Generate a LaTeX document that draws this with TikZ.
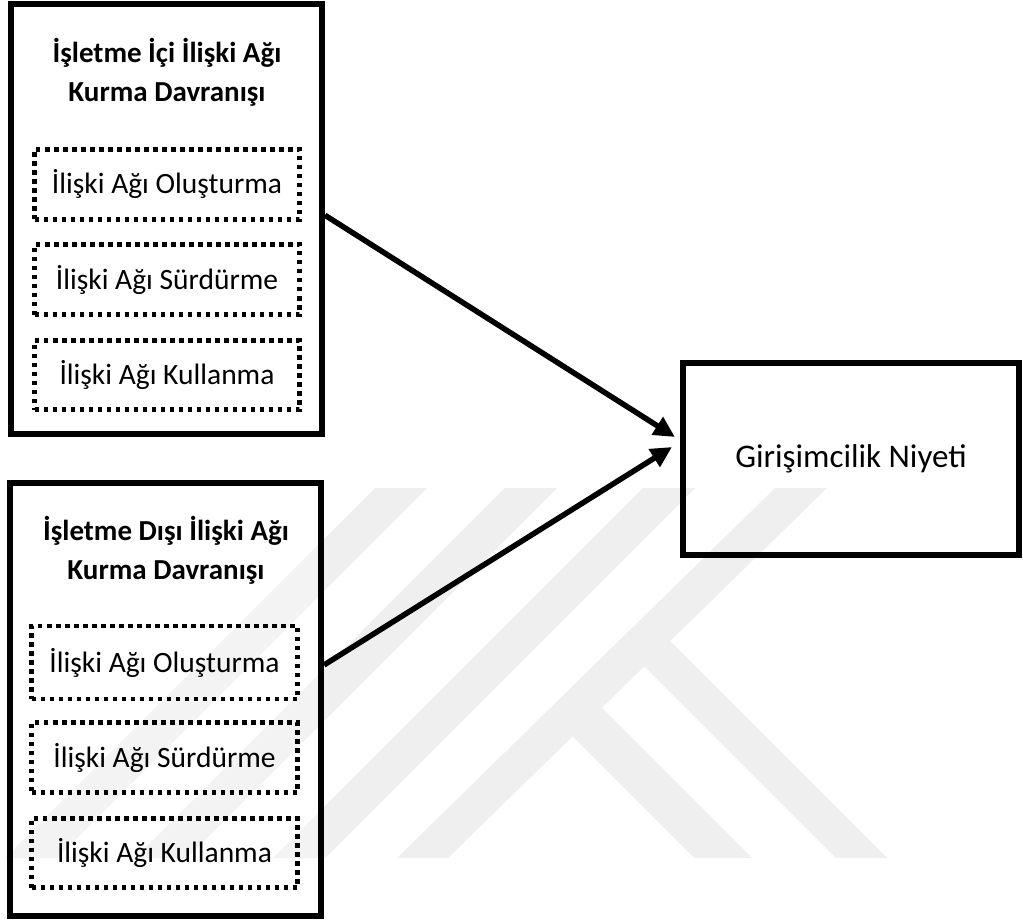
\documentclass[tikz,border=0pt]{standalone}
\usepackage{fontspec}
\setmainfont{Carlito}
\usetikzlibrary{arrows.meta}
\definecolor{wm}{RGB}{239,239,239}
\begin{document}
\begin{tikzpicture}[x=1pt,y=-1pt,
  outerbox/.style={draw, line width=6pt, minimum width=311pt, inner sep=0pt, fill=white, fill opacity=0.3},
  dotbox/.style={draw, line width=4.5pt, dash pattern=on 4.5pt off 4.5pt, inner sep=0pt, font=\fontsize{29.5}{35}\selectfont},
  titletext/.style={align=center, inner sep=0pt, font=\bfseries\fontsize{29}{39}\selectfont},
  goalbox/.style={draw, line width=6pt, minimum width=336pt, minimum height=192pt, inner sep=0pt, font=\fontsize{33}{38}\selectfont},
  arr/.style={line width=5.5pt, -{Triangle[length=21pt,width=20pt]}}
]
\useasboundingbox (0,0) rectangle (1023,920);
% watermark
\fill[wm] (375,488) -- (427,488) -- (57,858) -- (5,858) -- cycle;
\fill[wm] (505,488) -- (557,488) -- (187,858) -- (135,858) -- cycle;
\fill[wm] (643,488) -- (695,488) -- (325,858) -- (273,858) -- cycle;
\fill[wm] (775,488) -- (827,488) -- (448,858) -- (397,858) -- cycle;
\fill[wm] (659,630) -- (887,858) -- (836,858) -- (633,655) -- cycle;
\fill[wm] (589,695) -- (752,858) -- (694,858) -- (558,722) -- cycle;
% top group
\node[outerbox, minimum height=429.5pt] (top) at (166.5,219.25) {};
\node[titletext] (t1) at (167,72) {İşletme İçi İlişki Ağı\\Kurma Davranışı};
\node[dotbox, minimum width=265pt, minimum height=70pt] (a1) at (167,184.5) {İlişki Ağı Oluşturma};
\node[dotbox, minimum width=265pt, minimum height=70pt] (a2) at (167,279.5) {İlişki Ağı Sürdürme};
\node[dotbox, minimum width=265pt, minimum height=69pt] (a3) at (167,375) {İlişki Ağı Kullanma};
% bottom group
\node[outerbox, minimum height=433pt] (bot) at (165.5,699.5) {};
\node[titletext] (t2) at (166,550) {İşletme Dışı İlişki Ağı\\Kurma Davranışı};
\node[dotbox, minimum width=266pt, minimum height=73pt] (b1) at (164.5,662.5) {İlişki Ağı Oluşturma};
\node[dotbox, minimum width=266pt, minimum height=70pt] (b2) at (164.5,757.5) {İlişki Ağı Sürdürme};
\node[dotbox, minimum width=266pt, minimum height=69pt] (b3) at (164.5,853) {İlişki Ağı Kullanma};
% goal
\node[goalbox] (gn) at (851,459) {Girişimcilik Niyeti};
% arrows
\draw[arr] ([yshift=4pt]top.east) -- ([xshift=-5pt,yshift=22pt]gn.west);
\draw[arr] ([yshift=34.5pt]bot.east) -- ([xshift=-8pt,yshift=12pt]gn.west);
\end{tikzpicture}
\end{document}
